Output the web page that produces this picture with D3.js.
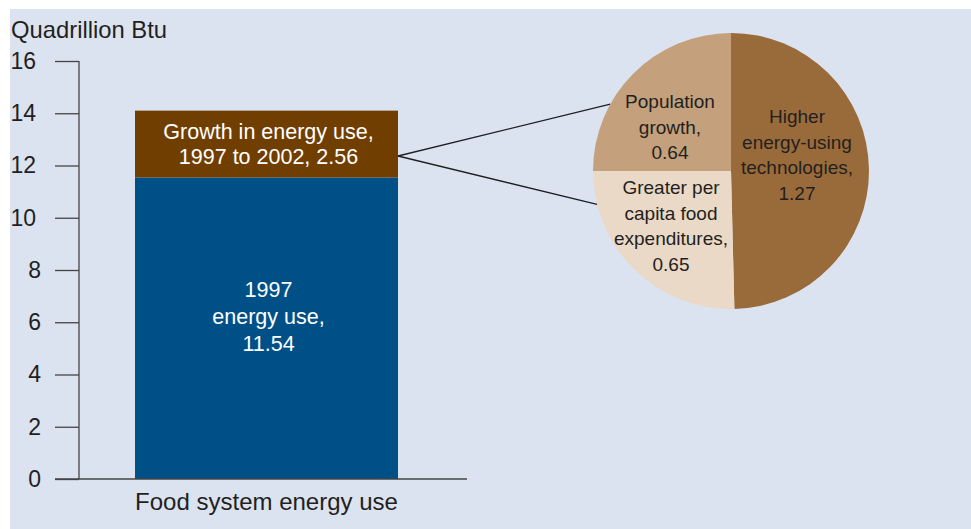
<!DOCTYPE html>
<html>
<head>
<meta charset="utf-8">
<script src="https://cdn.jsdelivr.net/npm/d3@7"></script>
<style>
  body { margin: 0; background: #fff; }
  svg { display: block; font-family: "Liberation Sans", Arial, Helvetica, sans-serif; }
</style>
</head>
<body>
<svg id="chart" width="971" height="529"></svg>
<script>
// bar data (quadrillion Btu)
var categories = ["Food system energy use"];
var base1997 = [11.54];
var growth = [2.56];
var barLabels = [["1997", "energy use,", "11.54"], ["Growth in energy use,", "1997 to 2002, 2.56"]];
var yTicks = [0, 2, 4, 6, 8, 10, 12, 14, 16];

// pie data: components of growth
var pieNames = ["Higher energy-using technologies", "Greater per capita food expenditures", "Population growth"];
var pieValues = [1.27, 0.65, 0.64];
var pieLabels = [
  ["Higher", "energy-using", "technologies,", "1.27"],
  ["Greater per", "capita food", "expenditures,", "0.65"],
  ["Population", "growth,", "0.64"]
];
var pieColors = ["#9a6b3a", "#e9d9c6", "#c4a07c"];

var svg = d3.select("#chart");

svg.append("rect")
  .attr("x", 10).attr("y", 9)
  .attr("width", 961).attr("height", 520)
  .attr("fill", "#dce3f0");

var y = d3.scaleLinear().domain([0, 16]).range([479, 61]);
var x = d3.scaleBand().domain(categories).range([135, 398]).padding(0);

// y axis
var yAxis = d3.axisLeft(y).tickValues(yTicks).tickSize(24).tickPadding(14)
  .tickFormat(d3.format("d"));
var gy = svg.append("g").attr("transform", "translate(79,0)").call(yAxis);
gy.select(".domain").remove();
gy.selectAll(".tick line").attr("stroke", "#444").attr("stroke-width", 1.3);
gy.selectAll(".tick text")
  .attr("fill", "#231f20")
  .style("font-size", "23px")
  .attr("dx", d => d >= 10 ? -5 : 0);
svg.append("line")
  .attr("x1", 79).attr("x2", 79)
  .attr("y1", y(16)).attr("y2", y(0))
  .attr("stroke", "#444").attr("stroke-width", 1.3);

svg.append("text")
  .attr("x", 11).attr("y", 38)
  .attr("fill", "#231f20")
  .style("font-size", "23.8px")
  .text("Quadrillion Btu");

// bars
var bars = svg.append("g");
bars.selectAll("rect.base").data(categories).enter().append("rect")
  .attr("class", "base")
  .attr("x", d => x(d))
  .attr("width", x.bandwidth())
  .attr("y", (d, i) => y(base1997[i]))
  .attr("height", (d, i) => y(0) - y(base1997[i]))
  .attr("fill", "#005088");
bars.selectAll("rect.growth").data(categories).enter().append("rect")
  .attr("class", "growth")
  .attr("x", d => x(d))
  .attr("width", x.bandwidth())
  .attr("y", (d, i) => y(base1997[i] + growth[i]))
  .attr("height", (d, i) => y(base1997[i]) - y(base1997[i] + growth[i]))
  .attr("fill", "#703f00");

// baseline
svg.append("line")
  .attr("x1", 55).attr("x2", 467)
  .attr("y1", y(0)).attr("y2", y(0))
  .attr("stroke", "#444").attr("stroke-width", 1.3);

var cx = x(categories[0]) + x.bandwidth() / 2 + 2;
var t1 = svg.append("text").attr("text-anchor", "middle").attr("fill", "#fff").style("font-size", "21.5px");
barLabels[0].forEach(function (s, i) {
  t1.append("tspan").attr("x", cx).attr("y", 297 + i * 27).text(s);
});
var t2 = svg.append("text").attr("text-anchor", "middle").attr("fill", "#fff").style("font-size", "21.5px");
barLabels[1].forEach(function (s, i) {
  t2.append("tspan").attr("x", cx).attr("y", 139 + i * 25).text(s);
});

svg.append("text")
  .attr("x", x(categories[0]) + x.bandwidth() / 2)
  .attr("y", 510)
  .attr("text-anchor", "middle")
  .attr("fill", "#231f20")
  .style("font-size", "24px")
  .text(categories[0]);

// pie
var pcx = 731, pcy = 171, r = 138;
var pie = d3.pie().sort(null).value(d => d);
var arc = d3.arc().innerRadius(0).outerRadius(r);
var arcs = pie(pieValues);

// connector lines
var ax = x(categories[0]) + x.bandwidth(), ay = 156;
[299, 256].forEach(function (deg) {
  var a = deg * Math.PI / 180;
  svg.append("line")
    .attr("x1", ax).attr("y1", ay)
    .attr("x2", pcx + r * Math.sin(a)).attr("y2", pcy - r * Math.cos(a))
    .attr("stroke", "#231f20").attr("stroke-width", 1.3);
});

var gp = svg.append("g").attr("transform", "translate(" + pcx + "," + pcy + ")");
gp.selectAll("path").data(arcs).enter().append("path")
  .attr("d", arc)
  .attr("fill", (d, i) => pieColors[i]);

// label positions inside each slice (relative to pie centre)
var labelPos = [[66, -48], [-60, 23], [-61, -63]];
arcs.forEach(function (d, i) {
  var t = gp.append("text").attr("text-anchor", "middle").attr("fill", "#231f20").style("font-size", "19px");
  pieLabels[i].forEach(function (s, j) {
    t.append("tspan").attr("x", labelPos[i][0]).attr("y", labelPos[i][1] + j * 25.5).text(s);
  });
});
</script>
</body>
</html>
